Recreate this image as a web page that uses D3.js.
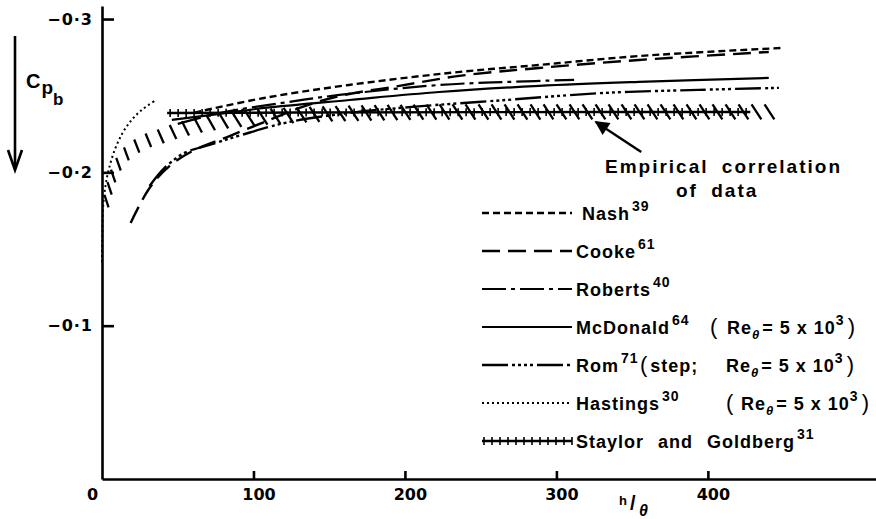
<!DOCTYPE html>
<html lang="en">
<head>
<meta charset="UTF-8">
<title>Base pressure coefficient against h/theta</title>
<script src="https://d3js.org/d3.v7.min.js"></script>
<style>
  body { margin: 0; background: #fff; }
  svg { display: block; }
  text { font-family: "Liberation Sans", Arial, sans-serif; font-weight: bold; fill: #000; }
</style>
</head>
<body>
<script>
var w = 876;
var h = 519;

// values: x = h/theta, y = Cpb
var nashX = [61, 107, 163, 229, 289, 355, 448];
var nashY = [-0.239, -0.2485, -0.257, -0.2648, -0.2701, -0.2759, -0.2811];
var cookeX = [18.9, 31.4, 44.7, 61.1, 84.2, 110.6, 130.4, 156.7, 196.3, 235.8, 288.6, 354.5, 440.2];
var cookeY = [-0.167, -0.1898, -0.2042, -0.2146, -0.2237, -0.2342, -0.242, -0.2498, -0.2564, -0.2629, -0.2681, -0.2733, -0.2785];
var robertsX = [50, 77.6, 119.1, 156.7, 222.6, 268.8, 311.7];
var robertsY = [-0.2316, -0.2387, -0.2453, -0.2505, -0.257, -0.259, -0.2603];
var mcdonaldX = [46.1, 77.6, 107.3, 163.3, 222.6, 288.6, 354.5, 440.2];
var mcdonaldY = [-0.2342, -0.2381, -0.242, -0.2472, -0.2524, -0.2564, -0.259, -0.2616];
var romX = [31.4, 41.3, 54.5, 71, 92.1, 123.8, 163.3, 204.8, 266.8, 331.4, 394.1, 446.9];
var romY = [-0.1911, -0.2029, -0.2127, -0.2179, -0.2244, -0.2329, -0.2387, -0.2427, -0.2472, -0.2518, -0.2538, -0.2551];
var hastingsX = [0, 0.2, 0.8, 2.4, 4.4, 8.4, 13.6, 19.6, 26.2, 34.7];
var hastingsY = [-0.1416, -0.1592, -0.1787, -0.1918, -0.2016, -0.2146, -0.2257, -0.2342, -0.2407, -0.2466];
var staylorX = [43, 130, 260, 428];
var staylorY = [-0.2387, -0.239, -0.2393, -0.2394];

// empirical correlation (hatched band)
var empiricalX = [2.4, 5.1, 8.4, 13.6, 20.2, 29.5, 39.4, 49.2, 64.4, 90.8, 130.4, 196.3, 295.2, 394.1, 448.8];
var empiricalY = [-0.1787, -0.1898, -0.2003, -0.2094, -0.2153, -0.2205, -0.2237, -0.227, -0.2309, -0.2348, -0.2374, -0.2391, -0.2394, -0.2394, -0.2394];
var arrowFrom = [356, -0.2133];
var arrowTo = [326, -0.2329];

var xTicks = [0, 100, 200, 300, 400];
var yTicks = [-0.1, -0.2, -0.3];

var seriesNames = ["Nash", "Cooke", "Roberts", "McDonald", "Rom", "Hastings", "Staylor and Goldberg"];
var seriesRefs = ["39", "61", "40", "64", "71", "30", "31"];

var svg = d3.select("body")
            .append("svg")
            .attr("width", w)
            .attr("height", h);

var x = d3.scaleLinear().domain([0, 511]).range([102, 876]);
var y = d3.scaleLinear().domain([0, -0.3085]).range([479, 6]);

var line = d3.line()
             .x(function(d) { return x(d[0]); })
             .y(function(d) { return y(d[1]); })
             .curve(d3.curveCatmullRom.alpha(0.5));

function pts(xs, ys) {
    return xs.map(function(v, i) { return [v, ys[i]]; });
}

// line styles for each series, same order as seriesNames
var dashes = ["7,4", "18,8", "24,5,4,5", null, "26,4,3,3,3,3,3,3,3,4", "2,3", null];
var widths = [2.4, 2.4, 2.2, 2.2, 2.4, 2, 2.4];
var data = [
    pts(nashX, nashY), pts(cookeX, cookeY), pts(robertsX, robertsY),
    pts(mcdonaldX, mcdonaldY), pts(romX, romY), pts(hastingsX, hastingsY),
    pts(staylorX, staylorY)
];

// axes
var xAxis = d3.axisBottom(x)
              .tickValues(xTicks)
              .tickSizeInner(-8)
              .tickSizeOuter(0)
              .tickPadding(10)
              .tickFormat(d3.format("d"));

var gx = svg.append("g")
            .attr("transform", "translate(0," + y(0) + ")")
            .call(xAxis);
gx.selectAll("text")
  .attr("dx", function(d) { return d === 0 ? -10 : 5; });
gx.selectAll(".tick line").filter(function(d) { return d === 0; }).remove();

var yAxis = d3.axisLeft(y)
              .tickValues(yTicks)
              .tickSizeInner(-12)
              .tickSizeOuter(0)
              .tickPadding(9)
              .tickFormat(function(d) { return "\u22120\u00b7" + Math.round(-d * 10); });

var gy = svg.append("g")
            .attr("transform", "translate(" + x(0) + ",0)")
            .call(yAxis);

svg.selectAll(".domain, .tick line")
   .attr("stroke", "#000")
   .attr("stroke-width", 2.6);
svg.selectAll(".tick text")
   .style("font-family", "'DejaVu Sans', sans-serif")
   .style("font-weight", "bold")
   .style("font-size", "16px")
   .attr("fill", "#000");
gy.selectAll(".tick text").attr("letter-spacing", 1);

// hatched band for the empirical correlation
var hatchPath = svg.append("path")
                   .attr("d", line(pts(empiricalX, empiricalY)))
                   .attr("fill", "none")
                   .attr("stroke", "none")
                   .node();
var hl = hatchPath.getTotalLength();
for (var s = 4; s < hl; s += 13) {
    var p = hatchPath.getPointAtLength(s);
    var t = Math.max(0, Math.min(1, (p.x - 105) / 140));
    var ang = (18 + 15 * t) * Math.PI / 180;
    var half = 6.5 + 2.5 * t;
    svg.append("line")
       .attr("x1", p.x - half * Math.sin(ang))
       .attr("y1", p.y - half * Math.cos(ang))
       .attr("x2", p.x + half * Math.sin(ang))
       .attr("y2", p.y + half * Math.cos(ang))
       .attr("stroke", "#000")
       .attr("stroke-width", 2.3);
}

// curves
var curves = svg.selectAll("path.curve")
                .data(data)
                .enter()
                .append("path")
                .attr("class", "curve")
                .attr("d", function(d) { return line(d); })
                .attr("fill", "none")
                .attr("stroke", "#000")
                .attr("stroke-width", function(d, i) { return widths[i]; })
                .attr("stroke-dasharray", function(d, i) { return dashes[i]; });

// cross ticks on Staylor and Goldberg
function crossTicks(node, step) {
    var len = node.getTotalLength();
    for (var s = 3; s < len; s += step) {
        var q = node.getPointAtLength(s);
        svg.append("line")
           .attr("x1", q.x).attr("x2", q.x)
           .attr("y1", q.y - 4).attr("y2", q.y + 4)
           .attr("stroke", "#000")
           .attr("stroke-width", 1.6);
    }
}
crossTicks(curves.nodes()[6], 8);

// arrow to the band
svg.append("defs").append("marker")
   .attr("id", "head")
   .attr("viewBox", "0 0 10 10")
   .attr("refX", 9).attr("refY", 5)
   .attr("markerWidth", 7).attr("markerHeight", 6)
   .attr("orient", "auto")
   .append("path")
   .attr("d", "M0,0 L10,5 L0,10 z")
   .attr("fill", "#000");

svg.append("line")
   .attr("x1", x(arrowFrom[0])).attr("y1", y(arrowFrom[1]))
   .attr("x2", x(arrowTo[0])).attr("y2", y(arrowTo[1]))
   .attr("stroke", "#000")
   .attr("stroke-width", 2.4)
   .attr("marker-end", "url(#head)");

svg.append("text")
   .attr("x", 605).attr("y", 173)
   .attr("font-size", 19)
   .attr("letter-spacing", 2)
   .attr("word-spacing", 6)
   .text("Empirical correlation");
svg.append("text")
   .attr("x", 676).attr("y", 197)
   .attr("font-size", 19)
   .attr("letter-spacing", 2)
   .attr("word-spacing", 6)
   .text("of data");

// legend
var legX1 = 482, legX2 = 572;
var legend = svg.selectAll("g.leg")
                .data(seriesNames)
                .enter()
                .append("g")
                .attr("class", "leg")
                .attr("transform", function(d, i) { return "translate(0," + (213 + i * 38) + ")"; });

legend.append("line")
      .attr("x1", legX1).attr("x2", legX2)
      .attr("y1", 0).attr("y2", 0)
      .attr("stroke", "#000")
      .attr("stroke-width", function(d, i) { return widths[i]; })
      .attr("stroke-dasharray", function(d, i) { return dashes[i]; });

var labels = legend.append("text")
      .attr("x", function(d, i) { return i === 0 ? 582 : 576; })
      .attr("y", 6.5)
      .attr("font-size", 18)
      .attr("letter-spacing", 1)
      .attr("word-spacing", 8);
labels.append("tspan").text(function(d) { return d; });
labels.append("tspan")
      .attr("dx", 2)
      .attr("dy", -9)
      .attr("font-size", 14)
      .text(function(d, i) { return seriesRefs[i]; });

// Staylor legend ticks
var sg = legend.filter(function(d, i) { return i === 6; });
for (var k = legX1 + 2; k <= legX2; k += 8) {
    sg.append("line")
      .attr("x1", k).attr("x2", k)
      .attr("y1", -4).attr("y2", 4)
      .attr("stroke", "#000")
      .attr("stroke-width", 1.6);
}

// Reynolds number notes
function reNote(g, xParen, xRe, pre) {
    var tx = g.append("text").attr("y", 6.5).attr("font-size", 18).attr("letter-spacing", 1);
    tx.append("tspan").attr("x", xParen).attr("font-size", 22).attr("font-weight", "normal").text("(");
    if (pre) tx.append("tspan").attr("dx", 2).text(pre);
    tx.append("tspan").attr("x", xRe).text("Re");
    tx.append("tspan").attr("dy", 5).attr("font-size", 13).attr("font-style", "italic").text("\u03b8");
    tx.append("tspan").attr("dy", -5).attr("dx", 2).text("= 5 x 10");
    tx.append("tspan").attr("dy", -9).attr("font-size", 14).text("3");
    tx.append("tspan").attr("dy", 9).attr("dx", 3).attr("font-size", 22).attr("font-weight", "normal").text(")");
}
reNote(legend.filter(function(d, i) { return i === 3; }), 710, 727, null);
reNote(legend.filter(function(d, i) { return i === 4; }), 640, 726, "step;");
reNote(legend.filter(function(d, i) { return i === 5; }), 726, 741, null);

// axis titles
var yl = svg.append("text").attr("x", 26).attr("y", 88).attr("font-size", 20).text("C");
yl.append("tspan").attr("dx", 1).attr("dy", 6).attr("font-size", 19).text("p");
yl.append("tspan").attr("dy", 11).attr("font-size", 17).text("b");

svg.append("line")
   .attr("x1", 15).attr("x2", 15)
   .attr("y1", 36).attr("y2", 168)
   .attr("stroke", "#000")
   .attr("stroke-width", 2.6);
svg.append("path")
   .attr("d", "M8,150 L15,170 L22,150")
   .attr("fill", "none")
   .attr("stroke", "#000")
   .attr("stroke-width", 2.6);

svg.append("text").attr("x", 619).attr("y", 505).attr("font-size", 13).text("h");
svg.append("text").attr("x", 630).attr("y", 510).attr("font-size", 20)
   .attr("font-weight", "normal").text("/");
svg.append("text").attr("x", 639).attr("y", 516).attr("font-size", 16)
   .attr("font-style", "italic").text("\u03b8");
</script>
</body>
</html>
